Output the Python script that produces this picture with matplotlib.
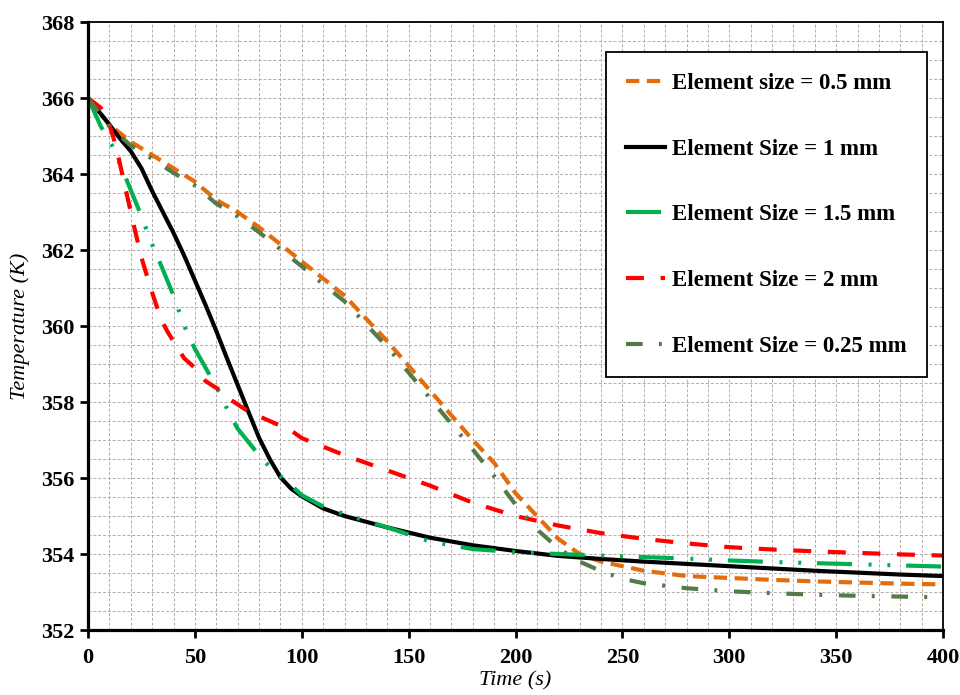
"""
Cooling curves for different mesh element sizes.
"""

import matplotlib.pyplot as plt
from matplotlib.ticker import MultipleLocator

plt.rcParams["font.family"] = ["Liberation Serif", "DejaVu Serif"]

# Element size = 0.5 mm
t_05 = [0, 10, 20, 30, 40, 50, 60, 70, 80, 90, 100, 110, 120, 140, 160, 180,
        190, 200, 210, 220, 230, 240, 250, 260, 280, 300, 320, 340, 360, 380,
        400]
T_05 = [366, 365.3, 364.85, 364.5, 364.15, 363.8, 363.32, 363.0, 362.6,
        362.15, 361.7, 361.25, 360.8, 359.6, 358.3, 357.0, 356.4, 355.6,
        355.0, 354.4, 354.0, 353.8, 353.68, 353.56, 353.42, 353.37, 353.32,
        353.28, 353.25, 353.22, 353.2]

# Element size = 1 mm
t_1 = [0, 5, 10, 15, 20, 25, 30, 35, 40, 45, 50, 55, 60, 65, 70, 75, 80, 85,
       90, 95, 100, 110, 120, 140, 160, 180, 200, 220, 240, 260, 280, 300,
       320, 340, 360, 380, 400]
T_1 = [366, 365.65, 365.3, 364.93, 364.6, 364.15, 363.55, 363.0, 362.45,
       361.85, 361.2, 360.55, 359.87, 359.15, 358.45, 357.75, 357.06, 356.5,
       356.02, 355.72, 355.52, 355.2, 355.0, 354.7, 354.43, 354.23, 354.08,
       353.95, 353.87, 353.8, 353.74, 353.68, 353.62, 353.56, 353.51, 353.46,
       353.42]

# Element size = 1.5 mm
t_15 = [0, 6, 11, 18, 24, 30, 34, 40, 43, 46, 50, 58, 62, 66, 70, 80, 86, 93,
        100, 110, 120, 140, 160, 180, 200, 220, 240, 260, 280, 300, 320, 340,
        360, 380, 400]
T_15 = [366, 365.25, 364.78, 363.85, 363.03, 362.15, 361.62, 360.8, 360.32,
        359.87, 359.4, 358.6, 358.2, 357.7, 357.3, 356.6, 356.23, 355.91,
        355.55, 355.25, 355.05, 354.7, 354.33, 354.13, 354.05, 354.0, 353.96,
        353.92, 353.88, 353.83, 353.79, 353.76, 353.73, 353.7, 353.67]

# Element size = 2 mm
t_2 = [0, 6, 10, 13, 16, 19, 21, 25, 29, 34, 37, 41, 45, 50, 55, 62, 67, 75,
       81, 89, 95, 100, 120, 140, 160, 180, 200, 220, 240, 260, 280, 300, 320,
       340, 360, 380, 400]
T_2 = [366, 365.74, 365.3, 364.75, 364.0, 363.25, 362.75, 361.8, 361.05,
       360.2, 359.87, 359.5, 359.15, 358.9, 358.55, 358.3, 358.05, 357.75,
       357.6, 357.4, 357.25, 357.05, 356.6, 356.2, 355.8, 355.35, 355.0,
       354.75, 354.55, 354.4, 354.28, 354.18, 354.12, 354.07, 354.03, 353.99,
       353.96]

# Element size = 0.25 mm
t_025 = [0, 10, 20, 30, 40, 50, 60, 70, 80, 90, 100, 110, 120, 140, 160, 180,
         190, 200, 210, 220, 230, 240, 250, 260, 280, 300, 320, 340, 360, 380,
         400]
T_025 = [366, 365.25, 364.75, 364.4, 364.03, 363.7, 363.22, 362.88, 362.47,
         362.02, 361.57, 361.1, 360.65, 359.45, 358.1, 356.75, 356.05, 355.3,
         354.65, 354.15, 353.8, 353.55, 353.35, 353.23, 353.1, 353.02, 352.97,
         352.93, 352.9, 352.88, 352.86]

fig = plt.figure(figsize=(9.6, 6.95), dpi=100)
ax = fig.add_axes([0.0917, 0.0935, 0.8906, 0.8748])

lw = 3
ax.plot(t_05, T_05, color="#E46C0A", lw=lw, dashes=(3.2, 1.8),
        label="Element size = 0.5 mm")
ax.plot(t_1, T_1, color="black", lw=lw, label="Element Size = 1 mm")
ax.plot(t_15, T_15, color="#00B050", lw=lw,
        dashes=(8.4, 4.0, 0.7, 3.8, 0.7, 3.8), label="Element Size = 1.5 mm")
ax.plot(t_2, T_2, color="#FF0000", lw=lw, dashes=(4.3, 4.0),
        label="Element Size = 2 mm")
ax.plot(t_025, T_025, color="#557A4A", lw=lw, dashes=(4.0, 3.9, 0.7, 4.0),
        label="Element Size = 0.25 mm")

ax.set_xlim(0, 400)
ax.set_ylim(352, 368)
ax.xaxis.set_major_locator(MultipleLocator(50))
ax.xaxis.set_minor_locator(MultipleLocator(10))
ax.yaxis.set_major_locator(MultipleLocator(2))
ax.yaxis.set_minor_locator(MultipleLocator(0.5))

ax.grid(which="both", color="#B3ABAB", lw=0.7, linestyle=(0, (3, 2)))
ax.set_axisbelow(True)

for side in ["left", "bottom"]:
    ax.spines[side].set_linewidth(2.3)
for side in ["top", "right"]:
    ax.spines[side].set_linewidth(1.3)

ax.tick_params(which="major", direction="out", length=6, width=2,
               labelsize=16)
ax.tick_params(axis="x", which="major", pad=7)
ax.tick_params(axis="y", which="major", pad=4)
ax.tick_params(which="minor", length=0)
for lab in ax.get_xticklabels() + ax.get_yticklabels():
    lab.set_fontweight("bold")

ax.set_xlabel("Time (s)", fontsize=16, style="italic", labelpad=2)
ax.set_ylabel("Temperature (K)", fontsize=16, style="italic", labelpad=8)

leg = ax.legend(loc="upper left", bbox_to_anchor=(0.631, 0.925),
                bbox_transform=fig.transFigure,
                prop={"size": 16.5, "weight": "bold"},
                labelspacing=1.95, borderpad=0.9, borderaxespad=0,
                handlelength=1.7, handletextpad=0.3, fancybox=False,
                framealpha=1, edgecolor="black")
leg.get_frame().set_linewidth(1.3)

plt.savefig("out.png", dpi=100)
plt.close()
